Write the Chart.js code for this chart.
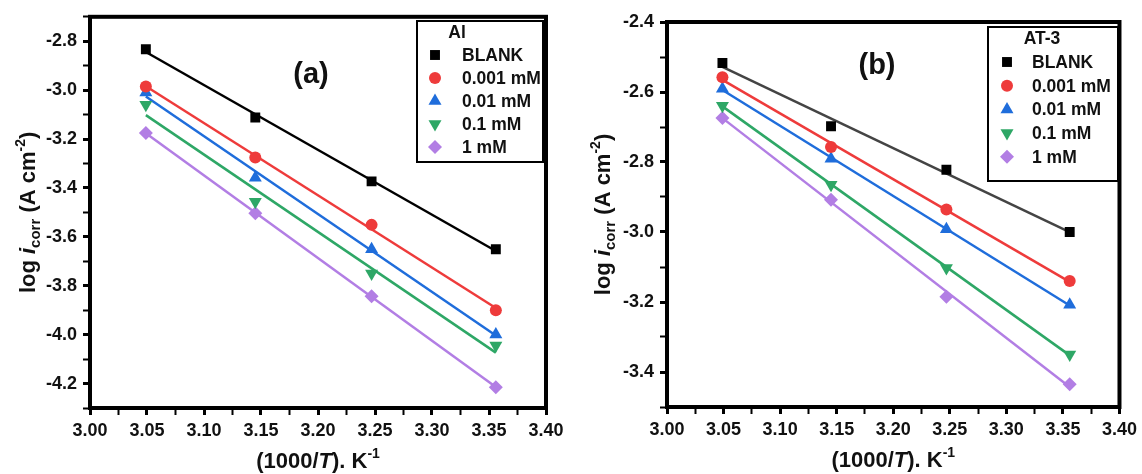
<!DOCTYPE html>
<html>
<head>
<meta charset="utf-8">
<script src="https://cdn.jsdelivr.net/npm/chart.js@4.4.0/dist/chart.umd.min.js"></script>
<style>
    html, body { margin: 0; padding: 0; background: #fff; }
    #wrap { position: relative; width: 1142px; height: 474px; }
    .panel { position: absolute; top: 0; width: 571px; height: 474px; }
    #panelA { left: 0; }
    #panelB { left: 571px; }
</style>
</head>
<body>
<div id="wrap">
    <div class="panel" id="panelA"><canvas id="chartA" width="571" height="474"></canvas></div>
    <div class="panel" id="panelB"><canvas id="chartB" width="571" height="474"></canvas></div>
</div>
<script>
// 1000/T for the four temperatures
const invT = [3.049, 3.145, 3.247, 3.356];
const seriesNames = ["BLANK", "0.001 mM", "0.01 mM", "0.1 mM", "1 mM"];

// panel (a) - Al
const alBlank = [-2.833, -3.112, -3.373, -3.651];
const al0001 = [-2.985, -3.275, -3.551, -3.900];
const al001 = [-3.010, -3.358, -3.651, -3.999];
const al01 = [-3.060, -3.456, -3.750, -4.044];
const al1 = [-3.175, -3.503, -3.843, -4.215];

// panel (b) - AT-3
const atBlank = [-2.517, -2.698, -2.822, -3.000];
const at0001 = [-2.558, -2.757, -2.936, -3.140];
const at001 = [-2.591, -2.791, -2.992, -3.208];
const at01 = [-2.639, -2.865, -3.103, -3.350];
const at1 = [-2.674, -2.908, -3.185, -3.435];

const colors = ["#000000", "#ee3b3b", "#1f6ddb", "#2ea766", "#b27ee4"];
const pointStyles = ["rect", "circle", "triangle", "triangle", "rectRot"];
const rotations = [0, 0, 0, 180, 0];
const radii = [7, 6, 7.5, 7.5, 7];

const FONT = "'Liberation Sans', Arial, sans-serif";

function fitLine(xs, ys) {
    const n = xs.length;
    const mx = xs.reduce((a, b) => a + b, 0) / n;
    const my = ys.reduce((a, b) => a + b, 0) / n;
    let sxy = 0, sxx = 0;
    for (let i = 0; i < n; i++) {
        sxy += (xs[i] - mx) * (ys[i] - my);
        sxx += (xs[i] - mx) * (xs[i] - mx);
    }
    const k = sxy / sxx;
    const b = my - k * mx;
    return [
        { x: xs[0], y: k * xs[0] + b },
        { x: xs[n - 1], y: k * xs[n - 1] + b },
    ];
}

function drawRuns(ctx, runs, cx, baseline) {
    let total = 0;
    runs.forEach((r) => {
        ctx.font = r.font;
        r.w = ctx.measureText(r.text).width;
        total += r.w;
    });
    let x = cx - total / 2;
    runs.forEach((r) => {
        ctx.font = r.font;
        ctx.fillText(r.text, x, baseline + (r.dy || 0));
        x += r.w;
    });
}

const decorPlugin = {
    id: "decor",
    afterDraw(chart, args, opts) {
        const ctx = chart.ctx;
        const a = chart.chartArea;
        ctx.save();

        // frame
        ctx.strokeStyle = "#000";
        ctx.lineWidth = 4;
        ctx.strokeRect(a.left, a.top, a.right - a.left, a.bottom - a.top);

        ctx.fillStyle = "#111";
        ctx.textAlign = "left";
        ctx.textBaseline = "alphabetic";

        // x title
        const big = "bold 22px " + FONT;
        drawRuns(ctx, [
            { text: "(1000/", font: big },
            { text: "T", font: "italic bold 22px " + FONT },
            { text: "). K", font: big },
            { text: "-1", font: "bold 14px " + FONT, dy: -10 },
        ], (a.left + a.right) / 2, opts.xTitleY);

        // y title
        ctx.save();
        ctx.translate(opts.yTitleX, (a.top + a.bottom) / 2);
        ctx.rotate(-Math.PI / 2);
        drawRuns(ctx, [
            { text: "log ", font: big },
            { text: "i", font: "italic bold 22px " + FONT },
            { text: "corr", font: "bold 15px " + FONT, dy: 5 },
            { text: " (A cm", font: big },
            { text: "-2", font: "bold 14px " + FONT, dy: -10 },
            { text: ")", font: big },
        ], 0, 8);
        ctx.restore();

        // panel label
        ctx.textAlign = "center";
        ctx.textBaseline = "middle";
        ctx.font = "bold 29px " + FONT;
        ctx.fillText(opts.panel, opts.panelX, opts.panelY);

        // legend box
        const lg = opts.legend;
        ctx.lineWidth = 2;
        ctx.strokeRect(lg.left, lg.top, lg.right - lg.left, lg.bottom - lg.top);
        ctx.font = "bold 17.5px " + FONT;
        ctx.fillText(lg.title, lg.titleX, lg.titleY);
        ctx.textAlign = "left";
        const items = chart.data.datasets.filter((d) => !d.fit);
        items.forEach((d, i) => {
            const y = lg.rowY + i * lg.rowStep;
            ctx.fillStyle = d.pointBackgroundColor;
            Chart.helpers.drawPoint(ctx, {
                pointStyle: d.pointStyle,
                rotation: d.pointRotation,
                radius: d.pointRadius,
                borderWidth: 0,
            }, lg.markerX, y);
            ctx.fillStyle = "#111";
            ctx.fillText(d.label, lg.textX, y + 1);
        });
        ctx.restore();
    },
};

function isMajor(v, per) {
    return Math.abs(v * per - Math.round(v * per)) < 1e-6;
}

function makeChart(id, seriesList, lineColors, cfg) {
    const datasets = [];
    seriesList.forEach((ys, i) => {
        datasets.push({
            label: seriesNames[i],
            data: invT.map((x, j) => ({ x: x, y: ys[j] })),
            pointStyle: pointStyles[i],
            pointRotation: rotations[i],
            pointRadius: radii[i],
            pointBackgroundColor: colors[i],
            pointBorderWidth: 0,
            showLine: false,
            order: 1,
        });
    });
    seriesList.forEach((ys, i) => {
        datasets.push({
            label: "fit " + seriesNames[i],
            fit: true,
            data: fitLine(invT, ys),
            showLine: true,
            borderColor: lineColors[i],
            borderWidth: 2.5,
            pointRadius: 0,
            order: 2,
        });
    });

    const tickFont = { family: FONT, size: 18, weight: "bold" };

    return new Chart(document.getElementById(id), {
        type: "scatter",
        data: { datasets: datasets },
        options: {
            responsive: false,
            animation: false,
            layout: { padding: { left: 0, top: cfg.top, right: cfg.right, bottom: 0 } },
            plugins: {
                legend: { display: false },
                tooltip: { enabled: false },
                decor: cfg.decor,
            },
            scales: {
                x: {
                    type: "linear",
                    min: 3.0,
                    max: 3.4,
                    border: { display: false },
                    grid: {
                        drawOnChartArea: false,
                        tickLength: 7,
                        tickColor: "#000",
                        tickWidth: (c) => (isMajor(c.tick.value, 20) ? 3 : 2),
                    },
                    ticks: {
                        stepSize: 0.025,
                        autoSkip: false,
                        maxRotation: 0,
                        padding: 5,
                        color: "#111",
                        font: tickFont,
                        callback: (v) => (isMajor(v, 20) ? v.toFixed(2) : ""),
                    },
                    afterFit: (s) => { s.height = cfg.xHeight; },
                },
                y: {
                    type: "linear",
                    min: cfg.yMin,
                    max: cfg.yMax,
                    border: { display: false },
                    grid: {
                        drawOnChartArea: false,
                        tickLength: 7,
                        tickColor: "#000",
                        tickWidth: (c) => (isMajor(c.tick.value, 5) ? 3 : 2),
                    },
                    ticks: {
                        stepSize: 0.1,
                        autoSkip: false,
                        padding: 6,
                        color: "#111",
                        font: tickFont,
                        callback: (v) => (isMajor(v, 5) ? v.toFixed(1) : ""),
                    },
                    afterFit: (s) => { s.width = cfg.yWidth; },
                },
            },
        },
        plugins: [decorPlugin],
    });
}

makeChart("chartA", [alBlank, al0001, al001, al01, al1],
    ["#000000", colors[1], colors[2], colors[3], colors[4]], {
        top: 16, right: 25, xHeight: 66, yWidth: 90,
        yMin: -4.3, yMax: -2.7,
        decor: {
            xTitleY: 468, yTitleX: 27,
            panel: "(a)", panelX: 311, panelY: 75,
            legend: {
                title: "Al", left: 417, top: 21, right: 543, bottom: 162,
                titleX: 457, titleY: 33, rowY: 55, rowStep: 23,
                markerX: 435, textX: 462,
            },
        },
    });

makeChart("chartB", [atBlank, at0001, at001, at01, at1],
    ["#444444", colors[1], colors[2], colors[3], colors[4]], {
        top: 22, right: 20, xHeight: 67, yWidth: 96,
        yMin: -3.5, yMax: -2.4,
        decor: {
            xTitleY: 467, yTitleX: 31,
            panel: "(b)", panelX: 306, panelY: 66,
            legend: {
                title: "AT-3", left: 417, top: 27, right: 547, bottom: 181,
                titleX: 471, titleY: 39, rowY: 62, rowStep: 23.7,
                markerX: 436, textX: 461,
            },
        },
    });
</script>
</body>
</html>
